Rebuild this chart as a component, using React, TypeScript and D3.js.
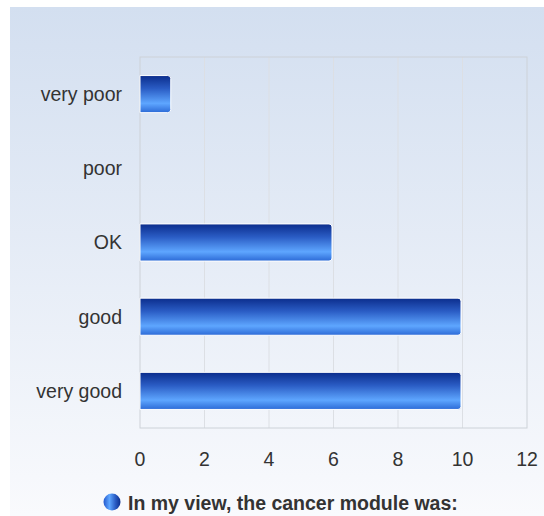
import React from "react";
import * as d3 from "d3";

const categories = ["very poor", "poor", "OK", "good", "very good"];
const values = [1, 0, 6, 10, 10];
const xTicks = [0, 2, 4, 6, 8, 10, 12];
const seriesName = "In my view, the cancer module was:";

export default function App() {
  const W = 544, H = 516;
  const left = 140, right = 527, top = 57, bottom = 428;
  const x = d3.scaleLinear().domain([0, 12]).range([left, right]);
  const y = d3.scaleBand().domain(categories).range([top, bottom]).paddingInner(0.5).paddingOuter(0.25);
  const r = 3;
  const fs = 19.5;
  const barPath = (v: number, cat: string) => {
    const x0 = x(0), x1 = x(v) - 1.5, y0 = y(cat)!, h = y.bandwidth();
    const p = d3.path();
    const rr = Math.min(r, (x1 - x0) / 2);
    p.moveTo(x0, y0);
    p.lineTo(x1 - rr, y0);
    p.quadraticCurveTo(x1, y0, x1, y0 + rr);
    p.lineTo(x1, y0 + h - rr);
    p.quadraticCurveTo(x1, y0 + h, x1 - rr, y0 + h);
    p.lineTo(x0, y0 + h);
    p.closePath();
    return p.toString();
  };
  return (
    <svg width={W} height={H} style={{ position: "absolute", left: 0, top: 0 }} fontFamily="Arial, 'Liberation Sans', sans-serif">
      <defs>
        <linearGradient id="bg" x1="0" y1="0" x2="0" y2="1">
          <stop offset="0" stopColor="#d3dff0" />
          <stop offset="1" stopColor="#f9fafd" />
        </linearGradient>
        <linearGradient id="bar" x1="0" y1="0" x2="0" y2="1">
          <stop offset="0" stopColor="#0b2d8c" />
          <stop offset="0.35" stopColor="#2a5cc4" />
          <stop offset="0.75" stopColor="#5ea6ff" />
          <stop offset="1" stopColor="#2c6ad6" />
        </linearGradient>
        <linearGradient id="dot" x1="0" y1="0" x2="1" y2="0">
          <stop offset="0" stopColor="#2458cc" />
          <stop offset="0.35" stopColor="#5ea6ff" />
          <stop offset="0.7" stopColor="#2a5cc4" />
          <stop offset="1" stopColor="#0b2d8c" />
        </linearGradient>
      </defs>
      <rect x={10} y={7} width={W - 10} height={H - 7} fill="url(#bg)" />
      {xTicks.slice(1, -1).map((t) => (
        <line key={t} x1={x(t)} x2={x(t)} y1={top} y2={bottom} stroke="#dcdfe4" strokeWidth={1} />
      ))}
      <rect x={left} y={top} width={right - left} height={bottom - top} fill="none" stroke="#cdd2d8" strokeWidth={1} />
      {categories.map((c, i) =>
        values[i] > 0 ? (
          <path key={c} d={barPath(values[i], c)} fill="url(#bar)" stroke="#ffffff" strokeWidth={1} />
        ) : null
      )}
      {categories.map((c) => (
        <text key={c} x={122} y={y(c)! + y.bandwidth() / 2} dy="0.35em" textAnchor="end" fontSize={fs} fill="#333">
          {c}
        </text>
      ))}
      {xTicks.map((t) => (
        <text key={t} x={x(t)} y={459} dy="0.35em" textAnchor="middle" fontSize={fs} fill="#333">
          {t}
        </text>
      ))}
      <circle cx={112} cy={502} r={8.5} fill="url(#dot)" />
      <text x={128} y={503} dy="0.35em" fontSize={fs} fontWeight="bold" fill="#333">
        {seriesName}
      </text>
    </svg>
  );
}
